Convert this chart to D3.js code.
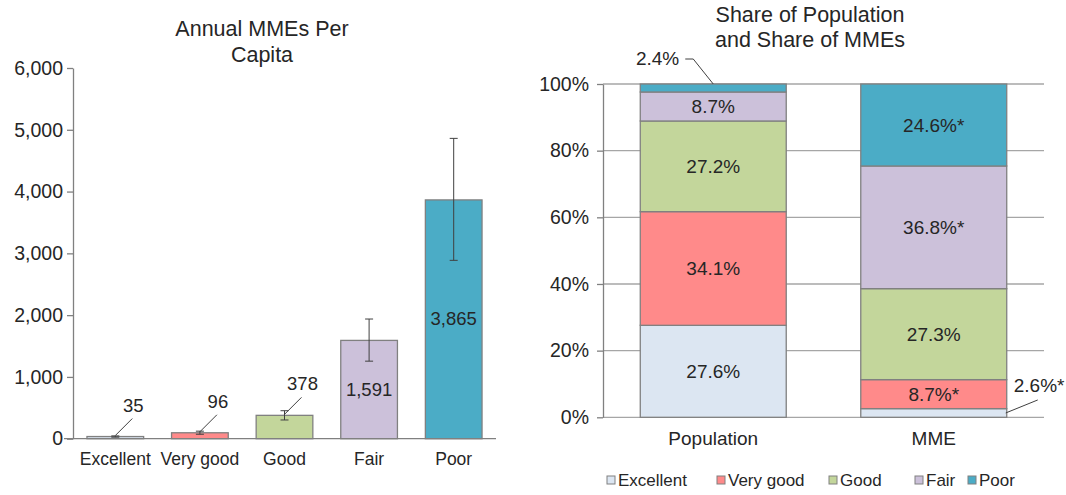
<!DOCTYPE html>
<html>
<head>
<meta charset="utf-8">
<script src="https://cdn.jsdelivr.net/npm/d3@7"></script>
<style>
  body { margin: 0; background: #fff; }
  svg text { font-family: "Liberation Sans", Arial, sans-serif; fill: #262626; }
</style>
</head>
<body>
<div id="chart"></div>
<script>
// health status categories
var categories = ['Excellent', 'Very good', 'Good', 'Fair', 'Poor'];
// annual MMEs per capita and error bar range
var perCapita = [35, 96, 378, 1591, 3865];
var errLow = [25, 72, 303, 1255, 2887];
var errHigh = [45, 122, 453, 1937, 4861];
var yTicksLeft = [0, 1000, 2000, 3000, 4000, 5000, 6000];
// shares (%)
var groups = ['Population', 'MME'];
var popShare = [27.6, 34.1, 27.2, 8.7, 2.4];
var mmeShare = [2.6, 8.7, 27.3, 36.8, 24.6];
var popLabels = ['27.6%', '34.1%', '27.2%', '8.7%', '2.4%'];
var mmeLabels = ['2.6%*', '8.7%*', '27.3%', '36.8%*', '24.6%*'];
var yTicksRight = [0, 20, 40, 60, 80, 100];

var colors = ['#dce6f2', '#ff8a8a', '#c3d69b', '#ccc1da', '#4bacc6'];
var strokeColor = '#808080';

var W = 1066, H = 495;
var svg = d3.select('#chart').append('svg')
	.attr('width', W)
	.attr('height', H);

var color = d3.scaleOrdinal(categories, colors);

// ---------- left chart ----------
var left = svg.append('g');
var xL = d3.scaleBand(categories, [73, 496]).paddingInner(0.33).paddingOuter(0.165);
var yL = d3.scaleLinear([0, 6000], [438.7, 68]);

left.append('text')
	.attr('x', 262).attr('y', 36)
	.attr('text-anchor', 'middle')
	.attr('font-size', '21.5px')
	.text('Annual MMEs Per');
left.append('text')
	.attr('x', 262).attr('y', 62)
	.attr('text-anchor', 'middle')
	.attr('font-size', '21.5px')
	.text('Capita');

var yAxisL = left.append('g')
	.attr('transform', 'translate(73,0)')
	.call(d3.axisLeft(yL).tickValues(yTicksLeft).tickFormat(d3.format(',')).tickSize(6).tickSizeOuter(0).tickPadding(4));
yAxisL.selectAll('line, path').attr('stroke', strokeColor).attr('stroke-width', 1.3);
yAxisL.selectAll('text').attr('font-size', '19.5px').attr('fill', '#262626').attr('font-family', '"Liberation Sans", Arial, sans-serif');

left.selectAll('.bar')
	.data(perCapita)
	.enter()
	.append('rect')
	.attr('class', 'bar')
	.attr('x', function (d, i) { return xL(categories[i]); })
	.attr('y', function (d) { return yL(d); })
	.attr('width', xL.bandwidth())
	.attr('height', function (d) { return yL(0) - yL(d); })
	.attr('fill', function (d, i) { return color(categories[i]); })
	.attr('stroke', strokeColor)
	.attr('stroke-width', 1.3);

left.append('line')
	.attr('x1', 64).attr('x2', 496)
	.attr('y1', yL(0)).attr('y2', yL(0))
	.attr('stroke', strokeColor)
	.attr('stroke-width', 1.3);

// error bars
var eb = left.selectAll('.err')
	.data(perCapita)
	.enter()
	.append('g')
	.attr('class', 'err')
	.attr('transform', function (d, i) { return 'translate(' + (xL(categories[i]) + xL.bandwidth() / 2) + ',0)'; });
eb.append('line')
	.attr('y1', function (d, i) { return yL(errLow[i]); })
	.attr('y2', function (d, i) { return yL(errHigh[i]); })
	.attr('stroke', '#404040').attr('stroke-width', 1);
eb.append('line')
	.attr('x1', -4).attr('x2', 4)
	.attr('y1', function (d, i) { return yL(errLow[i]); })
	.attr('y2', function (d, i) { return yL(errLow[i]); })
	.attr('stroke', '#404040').attr('stroke-width', 1);
eb.append('line')
	.attr('x1', -4).attr('x2', 4)
	.attr('y1', function (d, i) { return yL(errHigh[i]); })
	.attr('y2', function (d, i) { return yL(errHigh[i]); })
	.attr('stroke', '#404040').attr('stroke-width', 1);

// value labels: small ones outside with leader line, big ones inside the bar
var fmt = d3.format(',');
left.selectAll('.vlab')
	.data(perCapita)
	.enter()
	.append('text')
	.attr('class', 'vlab')
	.attr('font-size', '18.5px')
	.attr('text-anchor', 'middle')
	.attr('x', function (d, i) {
		var cx = xL(categories[i]) + xL.bandwidth() / 2;
		return d < 1000 ? cx + 18 : cx;
	})
	.attr('y', function (d) {
		return d < 1000 ? yL(d) - 31 + 6 : (yL(d) + yL(0)) / 2 + 6;
	})
	.text(function (d) { return fmt(d); });
left.selectAll('.vline')
	.data(perCapita.filter(function (d) { return d < 1000; }))
	.enter()
	.append('line')
	.attr('class', 'vline')
	.attr('x1', function (d, i) { return xL(categories[i]) + xL.bandwidth() / 2 + 17; })
	.attr('y1', function (d) { return yL(d) - 18; })
	.attr('x2', function (d, i) { return xL(categories[i]) + xL.bandwidth() / 2; })
	.attr('y2', function (d) { return yL(d) - 1; })
	.attr('stroke', '#404040').attr('stroke-width', 1);

left.selectAll('.xlab')
	.data(categories)
	.enter()
	.append('text')
	.attr('class', 'xlab')
	.attr('x', function (d) { return xL(d) + xL.bandwidth() / 2; })
	.attr('y', 465)
	.attr('text-anchor', 'middle')
	.attr('font-size', '17.5px')
	.text(function (d) { return d; });

// ---------- right chart ----------
var right = svg.append('g');
var xR = d3.scaleBand(groups, [603, 1044]).paddingInner(0.338).paddingOuter(0.169);
var yR = d3.scaleLinear([0, 100], [417.3, 84]);

right.append('text')
	.attr('x', 810).attr('y', 22)
	.attr('text-anchor', 'middle')
	.attr('font-size', '21.5px')
	.text('Share of Population');
right.append('text')
	.attr('x', 810).attr('y', 47)
	.attr('text-anchor', 'middle')
	.attr('font-size', '21.5px')
	.text('and Share of MMEs');

right.selectAll('.grid')
	.data(yTicksRight)
	.enter()
	.append('line')
	.attr('class', 'grid')
	.attr('x1', 603).attr('x2', 1044)
	.attr('y1', function (d) { return yR(d); })
	.attr('y2', function (d) { return yR(d); })
	.attr('stroke', '#a6a6a6')
	.attr('stroke-width', 1.3);

var yAxisR = right.append('g')
	.attr('transform', 'translate(603,0)')
	.call(d3.axisLeft(yR).tickValues(yTicksRight).tickFormat(function (d) { return d + '%'; }).tickSize(6).tickSizeOuter(0).tickPadding(8));
yAxisR.selectAll('line, path').attr('stroke', strokeColor).attr('stroke-width', 1.3);
yAxisR.selectAll('text').attr('font-size', '19.5px').attr('fill', '#262626').attr('font-family', '"Liberation Sans", Arial, sans-serif');

var table = [
	{ group: 'Population', values: popShare, labels: popLabels },
	{ group: 'MME', values: mmeShare, labels: mmeLabels }
];
var rows = table.map(function (t) {
	var r = { group: t.group };
	categories.forEach(function (c, i) { r[c] = t.values[i]; });
	return r;
});
var series = d3.stack().keys(categories)(rows);

var seg = right.selectAll('.ser')
	.data(series)
	.enter()
	.append('g')
	.attr('class', 'ser')
	.attr('fill', function (d) { return color(d.key); });
seg.selectAll('rect')
	.data(function (d) { return d; })
	.enter()
	.append('rect')
	.attr('x', function (d) { return xR(d.data.group); })
	.attr('y', function (d) { return yR(d[1]); })
	.attr('width', xR.bandwidth())
	.attr('height', function (d) { return yR(d[0]) - yR(d[1]); })
	.attr('stroke', strokeColor)
	.attr('stroke-width', 1.3);

// segment labels
series.forEach(function (s, si) {
	s.forEach(function (d, gi) {
		var v = d[1] - d[0];
		var label = table[gi].labels[si];
		var x0 = xR(d.data.group), bw = xR.bandwidth();
		if (v >= 5) {
			right.append('text')
				.attr('x', x0 + bw / 2)
				.attr('y', (yR(d[0]) + yR(d[1])) / 2 + 7)
				.attr('text-anchor', 'middle')
				.attr('font-size', '19px')
				.text(label);
		} else if (d[1] >= 99.9) {
			// top segment: label above left with leader
			var ex = x0 + bw / 2, ey = yR(d[1]);
			right.append('polyline')
				.attr('points', [[ex - 28, ey - 25], [ex - 20, ey - 25], [ex, ey]].join(' '))
				.attr('fill', 'none')
				.attr('stroke', '#404040').attr('stroke-width', 1);
			right.append('text')
				.attr('x', ex - 34)
				.attr('y', ey - 19)
				.attr('text-anchor', 'end')
				.attr('font-size', '19px')
				.text(label);
		} else {
			// bottom segment: label to the right with leader
			var rx = x0 + bw, ry = (yR(d[0]) + yR(d[1])) / 2;
			right.append('line')
				.attr('x1', rx - 1).attr('y1', ry)
				.attr('x2', rx + 31).attr('y2', ry - 13)
				.attr('stroke', '#404040').attr('stroke-width', 1);
			right.append('text')
				.attr('x', rx + 7)
				.attr('y', ry - 21)
				.attr('font-size', '19px')
				.text(label);
		}
	});
});

right.selectAll('.glab')
	.data(groups)
	.enter()
	.append('text')
	.attr('class', 'glab')
	.attr('x', function (d) { return xR(d) + xR.bandwidth() / 2; })
	.attr('y', 445)
	.attr('text-anchor', 'middle')
	.attr('font-size', '19px')
	.text(function (d) { return d; });

// legend
var legendX = [607, 717, 829, 915, 968];
var lg = right.selectAll('.lg')
	.data(categories)
	.enter()
	.append('g')
	.attr('class', 'lg')
	.attr('transform', function (d, i) { return 'translate(' + legendX[i] + ',480)'; });
lg.append('rect')
	.attr('x', 0).attr('y', -4)
	.attr('width', 8).attr('height', 8)
	.attr('fill', function (d) { return color(d); })
	.attr('stroke', strokeColor)
	.attr('stroke-width', 1);
lg.append('text')
	.attr('x', 11).attr('y', 6)
	.attr('font-size', '17px')
	.text(function (d) { return d; });
</script>
</body>
</html>
